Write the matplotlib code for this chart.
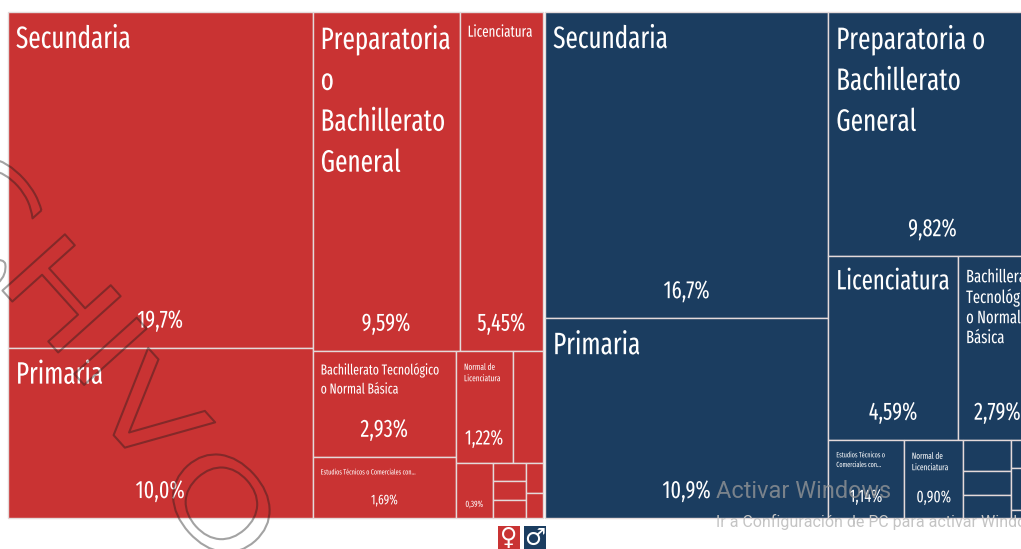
import matplotlib
matplotlib.use("Agg")
import matplotlib.pyplot as plt
from matplotlib.patches import Rectangle
from matplotlib.transforms import Affine2D
import matplotlib.patheffects as pe

# shares, None label/pct means the cell is too small for text
fem_values = [19.7, 10.0, 9.59, 5.45, 2.93, 1.69, 1.22, 0.66, 0.39, 0.12, 0.12, 0.12, 0.10, 0.08]
fem_labels = ["Secundaria", "Primaria", "Preparatoria\no\nBachillerato\nGeneral", "Licenciatura",
              "Bachillerato Tecnológico\no Normal Básica", "Estudios Técnicos o Comerciales con...",
              "Normal de\nLicenciatura", None, None, None, None, None, None, None]
fem_pct = ["19,7%", "10,0%", "9,59%", "5,45%", "2,93%", "1,69%", "1,22%", None, "0,39%",
           None, None, None, None, None]
fem_tree = [[0, 1], [[2, 3], [[4, 5], [[6, 7], [8, [9, 10, 11], [12, 13]]]]]]

male_values = [16.7, 10.9, 9.82, 4.59, 2.79, 1.14, 0.90, 0.29, 0.22, 0.21, 0.14, 0.21, 0.04]
male_labels = ["Secundaria", "Primaria", "Preparatoria o\nBachillerato\nGeneral", "Licenciatura",
               "Bachillerato\nTecnológico\no Normal\nBásica", "Estudios Técnicos o\nComerciales con...",
               "Normal de\nLicenciatura", None, None, None, None, None, None]
male_pct = ["16,7%", "10,9%", "9,82%", "4,59%", "2,79%", "1,14%", "0,90%", None, None, None,
            None, None, None]
male_tree = [[0, 1], [2, [3, 4], [5, 6, [7, 8, 9], [10, 11, 12]]]]

# font sizes in px and line spacing for each cell
fem_label_px = [31, 31, 31, 16, 14.5, 7.5, 9, 0, 0, 0, 0, 0, 0, 0]
fem_spacing = [1, 1, 1.44, 1, 1.42, 1, 1.33, 1, 1, 1, 1, 1, 1, 1]
fem_pct_px = [25, 25, 25, 25, 25, 14, 21, 0, 9, 0, 0, 0, 0, 0]
male_label_px = [31, 31, 31, 28, 18, 7.5, 9, 0, 0, 0, 0, 0, 0]
male_spacing = [1, 1, 1.44, 1, 1.15, 1.45, 1.33, 1, 1, 1, 1, 1, 1]
male_pct_px = [25, 25, 25, 25, 25, 18, 17, 0, 0, 0, 0, 0, 0]

RED = "#C93333"
BLUE = "#1B3D60"
LINE = "#E4DADA"
FONT = ["Fira Sans Extra Condensed", "Fira Sans Condensed", "Roboto"]
SQUEEZE = 0.88


class Squeeze(pe.AbstractPathEffect):
    """The screenshot is squashed sideways, so narrow the text around its anchor"""

    def __init__(self, anchor, factor):
        super().__init__()
        self.anchor = anchor
        self.factor = factor

    def draw_path(self, renderer, gc, tpath, affine, rgbFace=None):
        x, y = ax.transData.transform(self.anchor)
        narrow = Affine2D().translate(-x, 0).scale(self.factor, 1).translate(x, 0)
        renderer.draw_path(gc, tpath, affine + narrow, rgbFace)


class WideStroke(pe.Stroke):
    """Outline that also stretches a rotated letter along its baseline"""

    def __init__(self, anchor, angle, stretch, **kwargs):
        super().__init__(**kwargs)
        self.anchor = anchor
        self.angle = angle
        self.stretch = stretch

    def draw_path(self, renderer, gc, tpath, affine, rgbFace):
        x, y = ax.transData.transform(self.anchor)
        widen = (Affine2D().translate(-x, -y).rotate_deg(-self.angle).scale(self.stretch, 1)
                 .rotate_deg(self.angle).translate(x, y))
        super().draw_path(renderer, gc, tpath, affine + widen, rgbFace)


def total(node, values):
    if isinstance(node, int):
        return values[node]
    return sum(total(n, values) for n in node)


def layout(node, values, box, horizontal, out):
    """Slice and dice layout, the direction flips at each level"""
    if isinstance(node, int):
        out[node] = box
        return out
    x0, y0, x1, y1 = box
    whole = total(node, values)
    pos = x0 if horizontal else y0
    for child in node:
        if horizontal:
            step = (x1 - x0) * total(child, values) / whole
            layout(child, values, (pos, y0, pos + step, y1), False, out)
        else:
            step = (y1 - y0) * total(child, values) / whole
            layout(child, values, (x0, pos, x1, pos + step), True, out)
        pos += step
    return out


def px(size):
    return size * 0.72


def draw_cells(ax, tree, values, labels, pct, label_px, spacing, pct_px, box, color):
    boxes = layout(tree, values, box, True, {})
    for i, (x0, y0, x1, y1) in boxes.items():
        ax.add_patch(Rectangle((x0, y0), x1 - x0, y1 - y0, facecolor=color,
                               edgecolor=LINE, linewidth=1.0, zorder=1))
        if labels[i]:
            tx, ty = x0 + 8, y0 + 12
            ax.text(tx, ty, labels[i], color="white", ha="left", va="top",
                    fontsize=px(label_px[i]), family=FONT, linespacing=spacing[i], zorder=3,
                    path_effects=[Squeeze((tx, ty), SQUEEZE)])
        if pct[i]:
            tx, ty = (x0 + x1) / 2, y1 - (6 + 0.85 * pct_px[i])
            ax.text(tx, ty, pct[i], color="white", ha="center", va="center",
                    fontsize=px(pct_px[i]), family=FONT, zorder=3,
                    path_effects=[Squeeze((tx, ty), SQUEEZE)])


fig = plt.figure(figsize=(10.21, 5.49), dpi=100)
ax = fig.add_axes([0, 0, 1, 1])
ax.set_xlim(0, 1021)
ax.set_ylim(549, 0)
ax.axis("off")

# female and male blocks, the male one runs past the right edge of the screenshot
share_f = total(fem_tree, fem_values)
share_m = total(male_tree, male_values)
left, right, top, bottom = 8, 1037, 12, 518
split_x = left + (right - left) * share_f / (share_f + share_m)
draw_cells(ax, fem_tree, fem_values, fem_labels, fem_pct, fem_label_px, fem_spacing, fem_pct_px,
           (left, top, split_x - 1, bottom), RED)
draw_cells(ax, male_tree, male_values, male_labels, male_pct, male_label_px, male_spacing, male_pct_px,
           (split_x + 1, top, right, bottom), BLUE)

# legend icons
for x0, color, sign in [(498, RED, "♀"), (524, BLUE, "♂")]:
    ax.add_patch(Rectangle((x0, 526), 22, 24, facecolor=color, edgecolor="none", zorder=1))
    ax.text(x0 + 11, 538, sign, color="white", ha="center", va="center", fontsize=17,
            family="DejaVu Sans", fontweight="bold", zorder=3)

# outlined ARCHIVO stamp running across the left block
STAMP_ANGLE = -48
for letter, x, y in [("R", -45, 277), ("C", -22, 208), ("H", 54, 300), ("I", 103, 358),
                     ("V", 143, 420), ("O", 214, 510)]:
    ax.text(x, y, letter, color="none", ha="center", va="center", rotation=STAMP_ANGLE,
            rotation_mode="anchor", fontsize=83, family="DejaVu Sans", zorder=4,
            path_effects=[WideStroke((x, y), STAMP_ANGLE, 1.3, linewidth=1.5,
                                     foreground=(0.1, 0.1, 0.1, 0.4))])

# windows activation notice on top of the screenshot
ax.text(716, 491, "Activar Windows", color="#9a9a9a", alpha=0.75, fontsize=px(23.5), family="Roboto",
        ha="left", va="center", zorder=5)
ax.text(716, 522, "Ir a Configuración de PC para activar Windows.", color="#c4c4c4", fontsize=px(16),
        family="Roboto", ha="left", va="center", zorder=5)

fig.savefig("out.png", dpi=100, facecolor="white")
plt.close(fig)
